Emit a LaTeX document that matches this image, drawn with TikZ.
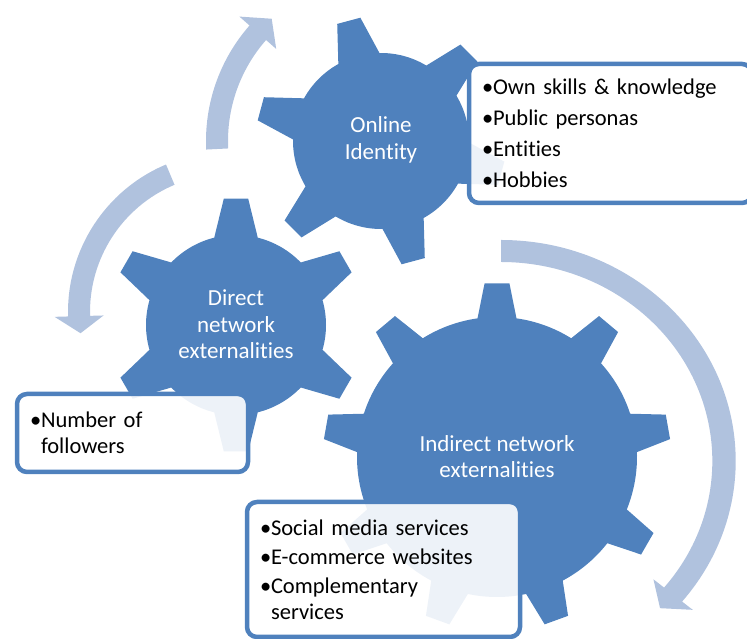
\documentclass[tikz,border=0pt]{standalone}
\usepackage{fontspec}
\setmainfont{Carlito}[Ligatures=NoCommon]
\usepackage{xcolor}
\usepackage{tikz}
\definecolor{GearBlue}{HTML}{4F81BD}
\definecolor{TurnBlue}{HTML}{B0C2DE}

% gear: centre, teeth, body radius, tip radius, first tooth, base half angle, tip half angle
\newcommand{\gearshape}[7]{%
  \begin{scope}[shift={#1}]
    \pgfmathsetmacro{\gstep}{360/#2}
    \pgfmathtruncatemacro{\glast}{#2-1}
    \fill[gearbody] ({#5-#6}:#3)
      \foreach \k in {0,...,\glast}{
        -- ({#5+\k*\gstep-#6}:#3) -- ({#5+\k*\gstep-#7}:#4)
        -- ({#5+\k*\gstep+#7}:#4) -- ({#5+\k*\gstep+#6}:#3)
        arc[start angle={#5+\k*\gstep+#6}, delta angle={\gstep-2*#6}, radius=#3]
      } -- cycle;
  \end{scope}}
% turning arrow: radius, half width, tail angle, head angle, tip angle, head half width
\newcommand{\turnarrow}[6]{%
  \fill[turnfill] ({#3}:{#1+#2}) arc[start angle=#3, end angle=#4, radius={#1+#2}]
    -- ({#4}:{#1+#6}) -- ({#5}:#1) -- ({#4}:{#1-#6}) -- ({#4}:{#1-#2})
    arc[start angle=#4, end angle=#3, radius={#1-#2}] -- cycle;}
\newcommand{\bul}{\makebox[11pt][l]{•}}

\begin{document}
\begin{tikzpicture}[
  x=1pt, y=1pt,
  gearbody/.style={fill=GearBlue},
  turnfill/.style={fill=TurnBlue},
  gearlabel/.style={text=white, align=center, font=\fontsize{23}{26.5}\selectfont},
  notebox/.style={draw=GearBlue, line width=4.5pt, rounded corners=10pt, fill=white,
    fill opacity=0.9, text opacity=1, align=left, inner xsep=13pt, outer sep=0pt, anchor=west,
    font=\fontsize{22.5}{26}\selectfont}
]
\useasboundingbox (0,0) rectangle (747,639);
\clip (0,0) rectangle (747,639);

% arrows round the gears
\begin{scope}[shift={(381,498)}]
  \turnarrow{164}{11}{182.8}{138.7}{131.8}{24.5}
\end{scope}
\begin{scope}[shift={(228,327)}]
  \turnarrow{149}{11}{112.8}{181.6}{188.2}{24.5}
\end{scope}
\begin{scope}[shift={(501,178)}, xscale=1.062]
  \turnarrow{210}{11}{90}{-39.5}{-44.5}{24}
\end{scope}

% gears
\gearshape{(381,498)}{6}{88}{125}{105}{14}{5.5}
\gearshape{(236,314)}{6}{90}{127}{90}{14}{5.5}
\gearshape{(497,182)}{9}{140}{174}{90}{8}{4.1}

\node[gearlabel] (identity) at (381,499) {Online\\Identity};
\node[gearlabel] (direct) at (236,314.5) {Direct\\network\\externalities};
\node[gearlabel] (indirect) at (497,182.5) {Indirect network\\externalities};

% notes
\node[notebox, text width=257pt, minimum height=139pt] (identitynotes) at (469,505.5)
  {\bul Own skills \& knowledge\\[5pt]\bul Public personas\\[5pt]\bul Entities\\[5pt]\bul Hobbies};
\node[notebox, text width=205pt, minimum height=78pt] (directnotes) at (17,206)
  {\bul Number of\\\hspace*{11pt}followers};
\node[notebox, text width=247pt, minimum height=135pt] (indirectnotes) at (247,69.5)
  {\bul Social media services\\[3pt]\bul E-commerce websites\\[3pt]\bul Complementary\\\hspace*{11pt}services};
\end{tikzpicture}
\end{document}
